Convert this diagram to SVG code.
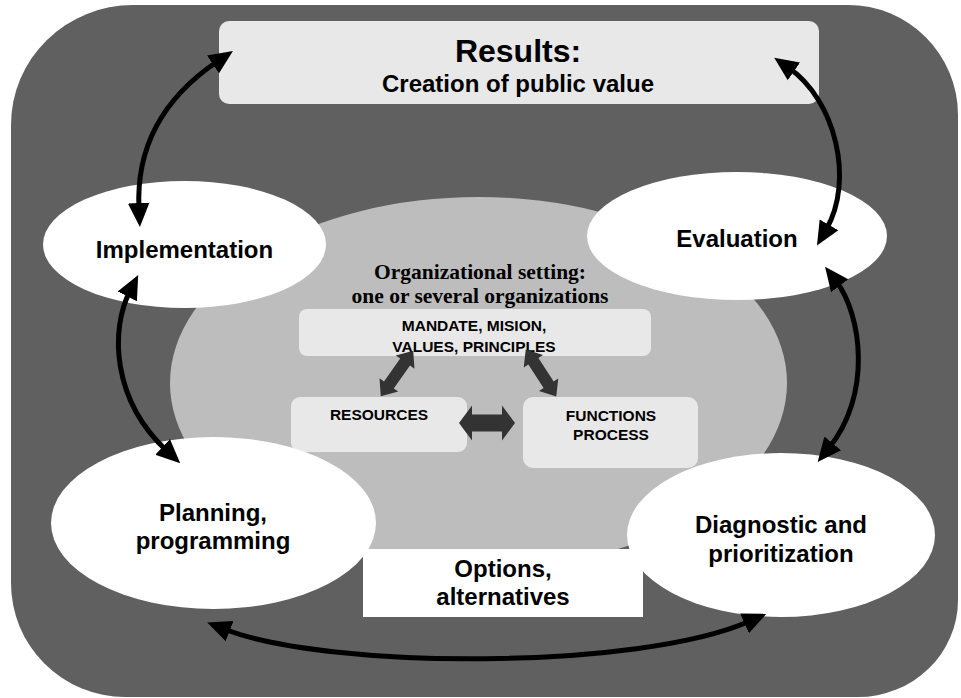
<svg xmlns="http://www.w3.org/2000/svg" width="961" height="698" viewBox="0 0 961 698">
<style>
.sans{font-family:"Liberation Sans",Arial,sans-serif;font-weight:bold;fill:#000;text-anchor:middle}
.serif{font-family:"Liberation Serif","Times New Roman",serif;font-weight:bold;fill:#000;text-anchor:middle}
.box{fill:#e8e8e8}
.oval{fill:#fff}
.conn{fill:none;stroke:#000;stroke-width:5;marker-start:url(#ah);marker-end:url(#ah)}
.block{fill:#333}
</style>
<defs>
<marker id="ah" markerUnits="userSpaceOnUse" markerWidth="24" markerHeight="24" viewBox="0 0 20 18" refX="5" refY="9" orient="auto-start-reverse">
<path d="M0,0 L20,9 L0,18 Z" fill="#000"/>
</marker>
<path id="dbl-h" d="M-28,0 L-15,-17.5 L-15,-8.5 L15,-8.5 L15,-17.5 L28,0 L15,17.5 L15,8.5 L-15,8.5 L-15,17.5 Z"/>
<path id="dbl-d" d="M-28,0 L-14,-11.5 L-14,-6 L14,-6 L14,-11.5 L28,0 L14,11.5 L14,6 L-14,6 L-14,11.5 Z"/>
</defs>

<path id="frame" d="M133,5 H848 A110,110 0 0 1 958,115 V600 A100,97 0 0 1 858,697 H125 A114,114 0 0 1 11,583 V125 A122,120 0 0 1 133,5 Z" fill="#606060"/>

<g id="org-setting">
<ellipse cx="478.5" cy="383" rx="308.5" ry="186" fill="#bdbdbd"/>
<text class="serif" x="480" y="279" font-size="21.5">Organizational setting:</text>
<text class="serif" x="480" y="303" font-size="21.5">one or several organizations</text>
</g>

<g id="results">
<rect class="box" x="219" y="21" width="600" height="83" rx="10"/>
<text class="sans" x="518" y="62" font-size="32">Results:</text>
<text class="sans" x="518" y="92" font-size="24">Creation of public value</text>
</g>

<g id="mandate">
<rect class="box" x="299" y="309" width="352" height="47" rx="8"/>
<text class="sans" x="474" y="331" font-size="15.5">MANDATE, MISION,</text>
<text class="sans" x="474" y="352" font-size="15.5">VALUES, PRINCIPLES</text>
</g>

<g id="resources">
<rect class="box" x="291" y="397" width="176" height="55" rx="9"/>
<text class="sans" x="379" y="420" font-size="15.5">RESOURCES</text>
</g>

<g id="functions">
<rect class="box" x="523" y="397" width="175" height="71" rx="10"/>
<text class="sans" x="611" y="421" font-size="15.5">FUNCTIONS</text>
<text class="sans" x="611" y="440" font-size="15.5">PROCESS</text>
</g>

<g id="internal-links">
<use href="#dbl-h" class="block" transform="translate(487,423)"/>
<use href="#dbl-d" class="block" transform="translate(397,373.5) rotate(-54.6)"/>
<use href="#dbl-d" class="block" transform="translate(541,373) rotate(57)"/>
</g>

<g id="implementation">
<ellipse class="oval" cx="184.5" cy="244.5" rx="141.5" ry="63.5"/>
<text class="sans" x="184.5" y="258" font-size="24">Implementation</text>
</g>

<g id="evaluation">
<ellipse class="oval" cx="737" cy="236" rx="150" ry="64"/>
<text class="sans" x="737" y="247" font-size="24">Evaluation</text>
</g>

<g id="planning">
<ellipse class="oval" cx="213.5" cy="523" rx="162.5" ry="86"/>
<text class="sans" x="213" y="521" font-size="24">Planning,</text>
<text class="sans" x="213" y="549" font-size="24">programming</text>
</g>

<g id="options">
<rect x="363" y="549" width="280" height="68" fill="#fff"/>
<text class="sans" x="503" y="577" font-size="24">Options,</text>
<text class="sans" x="503" y="605" font-size="24">alternatives</text>
</g>

<g id="diagnostic">
<ellipse class="oval" cx="781" cy="535" rx="154" ry="82"/>
<text class="sans" x="781" y="533" font-size="24">Diagnostic and</text>
<text class="sans" x="781" y="562" font-size="24">prioritization</text>
</g>

<g id="connectors">
<path class="conn" d="M139,209 C136,150 160,100 218,61"/>
<path class="conn" d="M130,291 C110,330 112,400 167,451"/>
<path class="conn" d="M789,68 C835,100 855,180 826,230"/>
<path class="conn" d="M836,281 C862,315 872,395 829,448"/>
<path class="conn" d="M224,629 C330,670 640,670 750,621"/>
</g>
</svg>
